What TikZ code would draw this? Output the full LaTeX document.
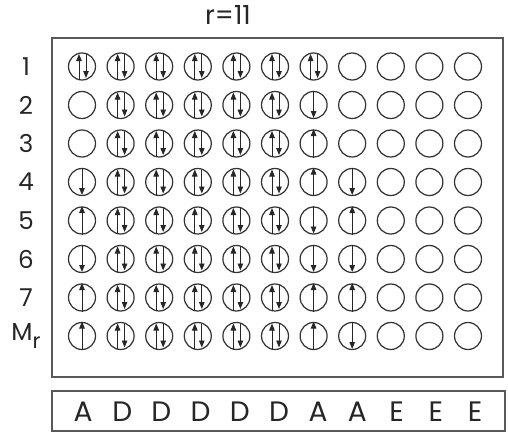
\documentclass[tikz,border=0pt]{standalone}
\usepackage{fontspec}
\setmainfont{Poppins}
\usetikzlibrary{arrows.meta,calc}
\tikzset{x=0.02cm,y=-0.02cm,
orb/.style={circle,draw=black!80,line width=0.7pt,minimum size=0.54cm,inner sep=0pt},
spin/.style={-{Triangle[length=1.4mm,width=1.1mm]},line width=0.55pt,black!85},
lbl/.style={font=\fontsize{14}{16}\selectfont,text=black!85},
cell/.style={font=\fontsize{16}{18}\selectfont,text=black!85},
frame/.style={draw=black!65,line width=0.6pt},
spind/.pic={\draw[spin] (-3,13) -- (-3,-12.5); \draw[spin] (4,-12.5) -- (4,11.5);},
spinu/.pic={\draw[spin] (0,14) -- (0,-14.5);},
spinn/.pic={\draw[spin] (0,-14.5) -- (0,13);},
spine/.pic={},
}

\begin{document}
\begin{tikzpicture}
\useasboundingbox (0,0) rectangle (508,433);
\node[lbl,font=\fontsize{15}{17}\selectfont] (title) at (228,15) {r=11};
\draw[frame] (52,38) rectangle (503,377);
\draw[frame] (52,391) rectangle (505,431);

% orbitals, row by row
\foreach \row/\txt/\codes [count=\i] in {
  1/1/{d,d,d,d,d,d,d,e,e,e,e},
  2/2/{e,d,d,d,d,d,n,e,e,e,e},
  3/3/{e,d,d,d,d,d,u,e,e,e,e},
  4/4/{n,d,d,d,d,d,u,n,e,e,e},
  5/5/{u,d,d,d,d,d,n,u,e,e,e},
  6/6/{n,d,d,d,d,d,n,n,e,e,e},
  7/7/{u,d,d,d,d,d,u,u,e,e,e},
  m/{M\raisebox{-5pt}{\fontsize{12}{14}\selectfont r}}/{u,d,d,d,d,d,u,n,e,e,e}}{
  \node[lbl] (r-\row) at (26,{66.5+38.5*(\i-1)}) {\txt};
  \foreach \k [count=\col] in \codes {
    \node[orb] (o-\row-\col) at ({82+38.6*(\col-1)},{66.5+38.5*(\i-1)}) {};
    \pic at (o-\row-\col) {spin\k};
  }
}

% occupation of each column
\foreach \t [count=\col] in {A,D,D,D,D,D,A,A,E,E,E}
  \node[cell] (s-\col) at ({83+39.2*(\col-1)},412) {\t};
\end{tikzpicture}
\end{document}
